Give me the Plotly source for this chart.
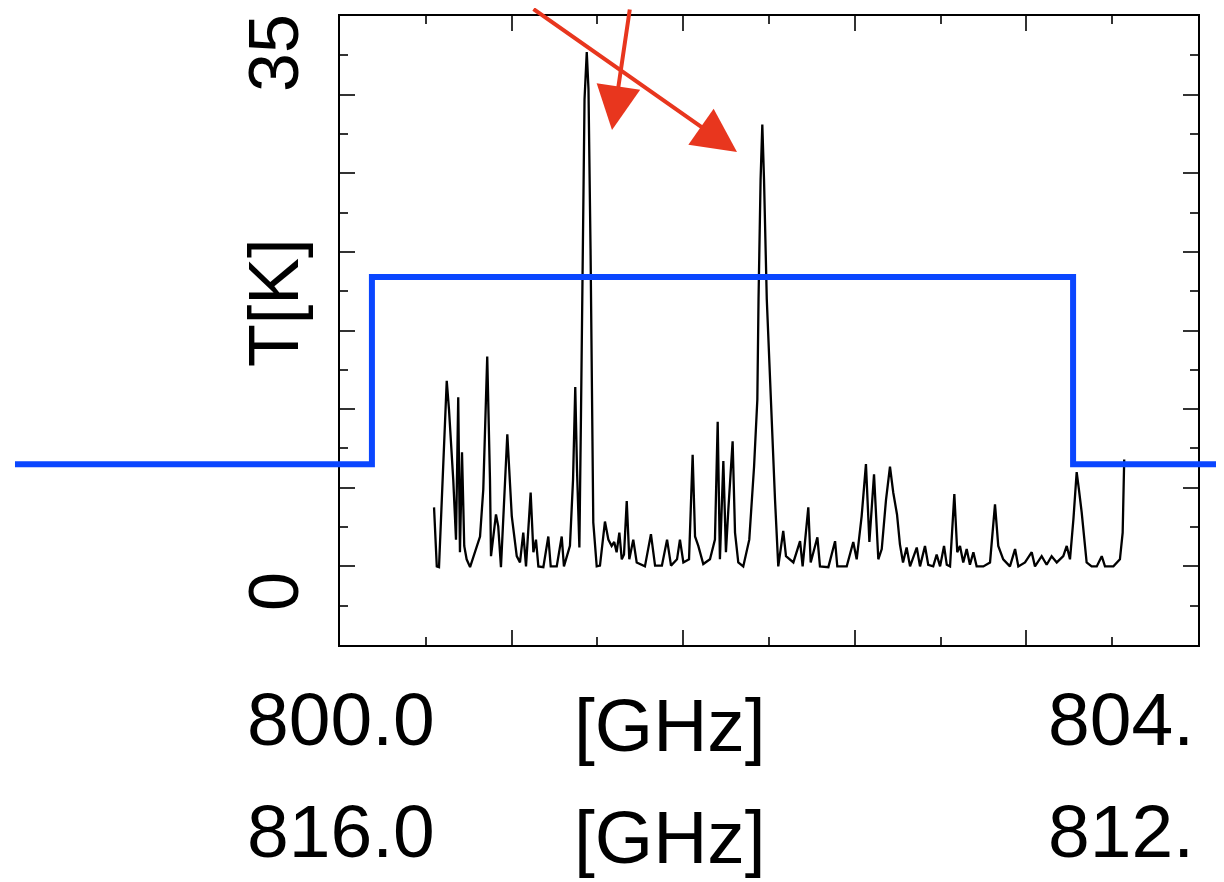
import plotly.graph_objects as go

# Spectrum (frequency in GHz, antenna temperature in K)
freq = [800.548, 800.564, 800.577, 800.600, 800.622, 800.635, 800.660, 800.676, 800.689, 800.699,
        800.711, 800.724, 800.738, 800.758, 800.787, 800.816, 800.835, 800.858, 800.874, 800.880,
        800.909, 800.922, 800.938, 800.956, 800.975, 801.001, 801.030, 801.049, 801.068, 801.084,
        801.111, 801.127, 801.142, 801.156, 801.185, 801.214, 801.228, 801.263, 801.292, 801.305,
        801.340, 801.358, 801.371, 801.381, 801.395, 801.404, 801.413, 801.425, 801.438, 801.448,
        801.460, 801.469, 801.476, 801.496, 801.515, 801.544, 801.564, 801.583, 801.598, 801.612,
        801.628, 801.642, 801.655, 801.671, 801.686, 801.709, 801.729, 801.777, 801.812, 801.836,
        801.876, 801.906, 801.929, 801.964, 801.981, 802.001, 802.034, 802.055, 802.069, 802.088,
        802.117, 802.156, 802.185, 802.201, 802.214, 802.234, 802.249, 802.263, 802.288, 802.302,
        802.321, 802.350, 802.385, 802.413, 802.432, 802.439, 802.451, 802.461, 802.471, 802.487,
        802.497, 802.510, 802.535, 802.554, 802.583, 802.599, 802.642, 802.681, 802.696, 802.729,
        802.743, 802.782, 802.797, 802.846, 802.885, 802.898, 802.953, 802.991, 803.011, 803.040,
        803.065, 803.085, 803.112, 803.137, 803.157, 803.182, 803.205, 803.224, 803.246, 803.263,
        803.281, 803.302, 803.322, 803.361, 803.380, 803.409, 803.428, 803.457, 803.477, 803.497,
        803.520, 803.536, 803.555, 803.580, 803.597, 803.613, 803.632, 803.652, 803.671, 803.691,
        803.710, 803.749, 803.788, 803.817, 803.836, 803.865, 803.904, 803.934, 803.953, 803.992,
        804.031, 804.050, 804.089, 804.118, 804.147, 804.177, 804.215, 804.235, 804.254, 804.274,
        804.293, 804.306, 804.322, 804.351, 804.380, 804.410, 804.439, 804.458, 804.507, 804.545,
        804.561, 804.570]
temp = [3.75, 0.0, -0.05, 5.5, 11.8, 10.0, 5.5, 1.7, 10.75, 0.9,
        7.25, 1.3, 0.45, -0.05, 0.9, 1.9, 4.9, 13.35, 5.5, 0.65,
        3.3, 2.55, -0.05, 4.25, 8.4, 3.2, 0.65, 0.25, 2.15, 0.0,
        4.7, 0.9, 1.7, 0.0, -0.05, 1.9, 0.0, 0.0, 1.9, 0.0,
        1.3, 5.5, 11.4, 6.2, 1.2, 9.35, 20.2, 29.7, 32.7, 30.35,
        20.2, 9.35, 2.8, 0.0, 0.05, 2.85, 1.7, 1.3, 1.55, 0.9,
        2.15, 0.45, 0.75, 4.15, 0.45, 1.7, 0.25, 0.0, 2.05, 0.05,
        0.05, 1.7, 0.05, 0.45, 1.7, 0.25, 0.45, 7.1, 1.9, 1.3,
        0.15, 0.45, 1.7, 9.2, 0.45, 6.7, 0.9, 3.6, 7.95, 2.15,
        0.25, 0.0, 1.7, 6.35, 10.6, 17.0, 24.6, 28.1, 24.6, 17.0,
        14.1, 10.6, 4.25, 0.0, 2.25, 0.65, 0.25, 1.6, 0.0, 3.75,
        0.25, 1.85, 0.0, -0.05, 1.6, 0.0, 0.0, 1.55, 0.45, 3.2,
        6.5, 1.55, 5.85, 0.45, 1.1, 4.25, 6.35, 4.7, 3.3, 1.4,
        0.25, 1.2, 0.0, 1.2, 0.0, 1.3, 0.1, 0.0, 0.75, 0.0,
        1.3, 0.1, 0.0, 4.6, 0.9, 1.3, 0.25, 1.1, 0.1, 0.9,
        0.0, 0.0, 0.25, 3.95, 1.3, 0.45, 0.0, 1.1, 0.0, 0.25,
        0.9, 0.0, 0.65, 0.1, 0.65, 0.25, 0.65, 1.3, 0.45, 3.0,
        6.0, 4.9, 3.45, 0.25, 0.0, 0.0, 0.65, 0.0, 0.0, 0.45,
        2.15, 6.8]

# Sideband filter (blue step), frequency in GHz, level in K-equivalent
band_freq = [798.106, 800.186, 800.186, 804.272, 804.272, 805.200]
band_level = [6.5, 6.5, 18.4, 18.4, 6.5, 6.5]

x_range = [800.0, 805.0]
y_range = [-5, 35]
y_tick_labels = ["35", "T[K]", "0"]
row1_labels = ["800.0", "[GHz]", "804."]
row2_labels = ["816.0", "[GHz]", "812."]

W, H = 1224, 882
OFF = 8  # page body margin offset in the browser

def px(x):
    return (x - OFF) / W

def py(y):
    return 1 - (y - OFF) / H

fig = go.Figure()
fig.add_trace(go.Scatter(x=freq, y=temp, mode="lines",
                         line=dict(color="black", width=2.3), xaxis="x", yaxis="y",
                         showlegend=False, hoverinfo="skip"))
fig.add_trace(go.Scatter(x=band_freq, y=band_level, mode="lines",
                         line=dict(color="#0a46ff", width=6), xaxis="x2", yaxis="y",
                         showlegend=False, hoverinfo="skip"))

x0_px, x1_px = 340, 1198
y0_px, y1_px = 16, 645
dom_x = [px(x0_px), px(x1_px)]
dom_y = [py(y1_px), py(y0_px)]
px_per_ghz = (x1_px - x0_px) / (x_range[1] - x_range[0])
left_fig = 0 + OFF   # window px of figure left edge
right_fig = W + OFF
x2_range = [x_range[0] - (x0_px - left_fig) / px_per_ghz, x_range[0] + (right_fig - x0_px) / px_per_ghz]

axis_common = dict(showline=True, linecolor="black", linewidth=2, mirror="ticks",
                   ticks="inside", ticklen=15, tickwidth=1.5, tickcolor="#333",
                   showgrid=False, zeroline=False, showticklabels=False)
fig.update_layout(
    width=W, height=H, margin=dict(l=0, r=0, t=0, b=0),
    paper_bgcolor="white", plot_bgcolor="rgba(0,0,0,0)",
    xaxis=dict(domain=dom_x, range=x_range, dtick=1, tick0=800, anchor="y",
               minor=dict(dtick=0.5, ticks="inside", ticklen=8, tickwidth=1.5, tickcolor="#333", showgrid=False),
               **axis_common),
    yaxis=dict(domain=dom_y, range=y_range, dtick=5, tick0=0, anchor="x",
               minor=dict(dtick=2.5, ticks="inside", ticklen=8, tickwidth=1.5, tickcolor="#333", showgrid=False),
               **axis_common),
    xaxis2=dict(domain=[0, 1], range=x2_range, visible=False, anchor="free", position=0),
)

big_font = dict(family="Liberation Sans, Arial", size=75, color="black")
rot_font = dict(family="Liberation Sans, Arial", size=70, color="black")

annotations = []
for txt, ypx in zip(y_tick_labels, [53, 303, 592]):
    annotations.append(dict(text=txt, x=px(274), y=py(ypx), xref="paper", yref="paper",
                            showarrow=False, textangle=-90, font=rot_font,
                            xanchor="center", yanchor="middle"))
for row, ypx in [(row1_labels, 719), (row2_labels, 831)]:
    for txt, xpx in zip(row, [341, 670, 1121]):
        yy = ypx + (6 if txt.startswith("[") else 0)
        annotations.append(dict(text=txt, x=px(xpx), y=py(yy), xref="paper", yref="paper",
                                showarrow=False, font=big_font, xanchor="center", yanchor="middle"))

red = "#e8361e"
for tip, off in [((612, 130), (18, -165)), ((737, 152), (-205, -156))]:
    annotations.append(dict(text="", x=px(tip[0]), y=py(tip[1]), xref="paper", yref="paper",
                            showarrow=True, ax=off[0], ay=off[1], arrowhead=2, arrowsize=2.2,
                            arrowwidth=4, arrowcolor=red, standoff=0))
fig.update_layout(annotations=annotations)

fig.write_html("out.html")
